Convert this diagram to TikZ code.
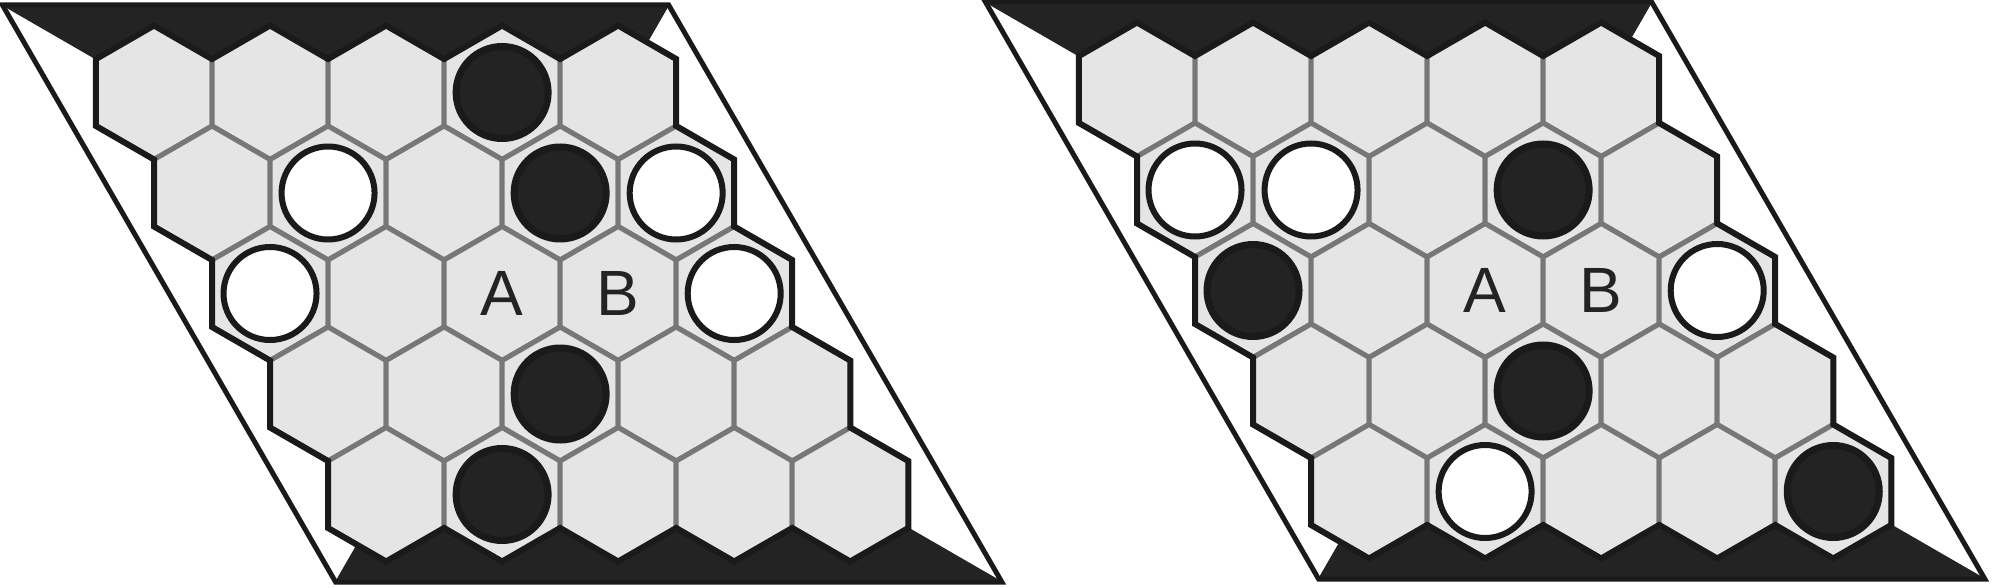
\documentclass[tikz,border=0pt]{standalone}
\usepackage{fontspec}
\setmainfont{Liberation Sans}
\definecolor{darkfill}{RGB}{35,35,35}
\definecolor{edgeblack}{RGB}{26,26,26}
\definecolor{cellfill}{RGB}{229,229,229}
\definecolor{cellline}{RGB}{119,119,119}
\tikzset{
  hexcell/.style={fill=cellfill, draw=cellline, line width=5pt},
  boardedge/.style={draw=edgeblack, line width=6pt, line join=miter},
  frameline/.style={draw=edgeblack, line width=5pt, line join=miter},
  darkband/.style={fill=darkfill, draw=darkfill, line width=1pt},
  blackstone/.style={circle, fill=darkfill, draw=edgeblack, line width=7pt, minimum size=92pt, inner sep=0pt},
  whitestone/.style={circle, fill=white, draw=edgeblack, line width=6pt, minimum size=93pt, inner sep=0pt},
  cellmark/.style={font=\fontsize{64}{64}\selectfont, text=darkfill, inner sep=0pt},
}
\newcommand{\cellat}[2]{({116.04*#2+58.02*#1},{100.5*#1})}
\newcommand{\hexboardbase}{%
  % dark bands
  \path[darkband] (-151.55,-87.5) -- (514.66,-87.5) -- (493.16,-50.26) -- (464.16,-67)
    -- (406.14,-33.5) -- (348.12,-67) -- (290.1,-33.5) -- (232.08,-67) -- (174.06,-33.5)
    -- (116.04,-67) -- (58.02,-33.5) -- (0,-67) -- (-58.02,-33.5) -- cycle;
  \path[darkband] (847.79,489.5) -- (181.58,489.5) -- (203.08,452.26) -- (232.08,469)
    -- (290.1,435.5) -- (348.12,469) -- (406.14,435.5) -- (464.16,469) -- (522.18,435.5)
    -- (580.2,469) -- (638.22,435.5) -- (696.24,469) -- (754.26,435.5) -- cycle;
  % cells
  \foreach \r in {0,...,4}{
    \foreach \c in {0,...,4}{
      \draw[hexcell, shift={\cellat{\r}{\c}}] (30:67) -- (90:67) -- (150:67) -- (210:67)
        -- (270:67) -- (330:67) -- cycle;
    }
  }
  % board perimeter
  \draw[boardedge] (-58.02,-33.5) -- (0,-67) -- (58.02,-33.5) -- (116.04,-67) -- (174.06,-33.5)
    -- (232.08,-67) -- (290.1,-33.5) -- (348.12,-67) -- (406.14,-33.5) -- (464.16,-67)
    -- (522.18,-33.5) -- (522.18,33.5) -- (580.2,67) -- (580.2,134) -- (638.22,167.5)
    -- (638.22,234.5) -- (696.24,268) -- (696.24,335) -- (754.26,368.5) -- (754.26,435.5)
    -- (696.24,469) -- (638.22,435.5) -- (580.2,469) -- (522.18,435.5) -- (464.16,469)
    -- (406.14,435.5) -- (348.12,469) -- (290.1,435.5) -- (232.08,469) -- (174.06,435.5)
    -- (174.06,368.5) -- (116.04,335) -- (116.04,268) -- (58.02,234.5) -- (58.02,167.5)
    -- (0,134) -- (0,67) -- (-58.02,33.5) -- cycle;
  % outer frame
  \draw[frameline] (-151.55,-87.5) -- (514.66,-87.5) -- (847.79,489.5) -- (181.58,489.5) -- cycle;
}
\begin{document}
\begin{tikzpicture}[x=1pt, y=-1pt]
  \useasboundingbox (0,0) rectangle (1992,588);
  % left board
  \begin{scope}[shift={(154,92.5)}]
    \hexboardbase
    \node[blackstone] (L03) at \cellat{0}{3} {};
    \node[whitestone] (L11) at \cellat{1}{1} {};
    \node[blackstone] (L13) at \cellat{1}{3} {};
    \node[whitestone] (L14) at \cellat{1}{4} {};
    \node[whitestone] (L20) at \cellat{2}{0} {};
    \node[whitestone] (L24) at \cellat{2}{4} {};
    \node[blackstone] (L32) at \cellat{3}{2} {};
    \node[blackstone] (L41) at \cellat{4}{1} {};
    \node[cellmark] (LA) at \cellat{2}{2} {A};
    \node[cellmark] (LB) at \cellat{2}{3} {B};
  \end{scope}
  % right board
  \begin{scope}[shift={(1137,89.5)}]
    \hexboardbase
    \node[whitestone] (R10) at \cellat{1}{0} {};
    \node[whitestone] (R11) at \cellat{1}{1} {};
    \node[blackstone] (R13) at \cellat{1}{3} {};
    \node[blackstone] (R20) at \cellat{2}{0} {};
    \node[whitestone] (R24) at \cellat{2}{4} {};
    \node[blackstone] (R32) at \cellat{3}{2} {};
    \node[whitestone] (R41) at \cellat{4}{1} {};
    \node[blackstone] (R44) at \cellat{4}{4} {};
    \node[cellmark] (RA) at \cellat{2}{2} {A};
    \node[cellmark] (RB) at \cellat{2}{3} {B};
  \end{scope}
\end{tikzpicture}
\end{document}
